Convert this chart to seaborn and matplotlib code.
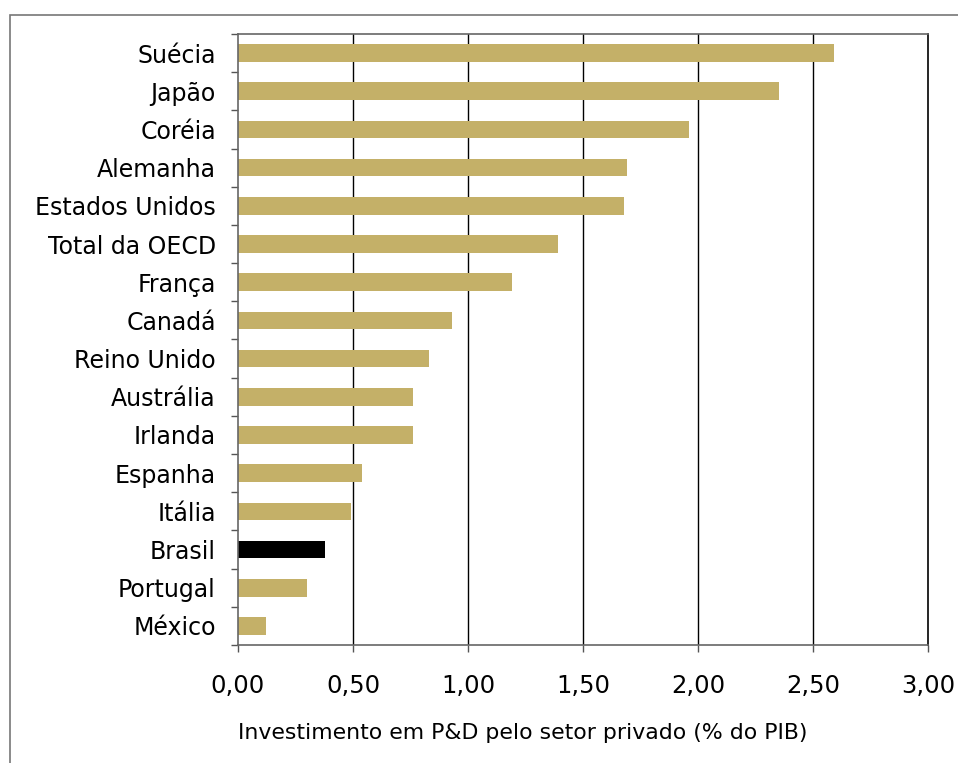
import numpy as np
import pandas as pd
import matplotlib
matplotlib.use("Agg")
import matplotlib.pyplot as plt
import seaborn as sns
from matplotlib.patches import Rectangle

countries = ["Suécia", "Japão", "Coréia", "Alemanha", "Estados Unidos", "Total da OECD",
             "França", "Canadá", "Reino Unido", "Austrália", "Irlanda", "Espanha",
             "Itália", "Brasil", "Portugal", "México"]
values = [2.59, 2.35, 1.96, 1.69, 1.68, 1.39, 1.19, 0.93, 0.83, 0.76, 0.76, 0.54,
          0.49, 0.38, 0.30, 0.12]
xticks = [0.0, 0.5, 1.0, 1.5, 2.0, 2.5, 3.0]
xtick_labels = ["0,00", "0,50", "1,00", "1,50", "2,00", "2,50", "3,00"]
xlabel = "Investimento em P&D pelo setor privado (% do PIB)"

gold = "#C4B068"
palette = {c: ("#000000" if c == "Brasil" else gold) for c in countries}

sns.set_style("white")
plt.rcParams['font.family'] = ['DejaVu Sans']
plt.rcParams['text.color'] = 'black'
plt.rcParams['xtick.color'] = 'black'
plt.rcParams['ytick.color'] = 'black'
plt.rcParams['axes.labelcolor'] = 'black'

df = pd.DataFrame({"pais": countries, "valor": values})

fig = plt.figure(figsize=(9.58, 7.63), dpi=100)
ax = fig.add_axes([238/958, 1-645/763, (928-238)/958, (645-34)/763])

sns.barplot(data=df, x="valor", y="pais", hue="pais", palette=palette, order=countries,
            width=0.46, legend=False, ax=ax, saturation=1, linewidth=0)

ax.set_xlim(0, 3.0)
ax.set_ylim(len(countries)-0.5, -0.5)
ax.set_xticks(xticks)
ax.set_xticklabels(xtick_labels, fontsize=17.5)
ax.set_yticks(range(len(countries)))
ax.set_yticklabels(countries, fontsize=17)
ax.set_yticks(np.arange(-0.5, len(countries)+0.5, 1), minor=True)
ax.tick_params(axis='y', which='major', length=0, pad=16)
ax.tick_params(axis='y', which='minor', length=5, width=1, color='#555555', left=True)
ax.tick_params(axis='x', which='major', length=5, width=1, color='#555555', bottom=True, pad=16)

for x in xticks[1:-1]:
    ax.axvline(x, color='#000000', lw=1, zorder=0)

for s in ['left', 'bottom', 'top']:
    ax.spines[s].set_color('#666666')
    ax.spines[s].set_linewidth(1.2)
ax.spines['right'].set_color('#000000')
ax.spines['right'].set_linewidth(1.2)

ax.set_ylabel("")
ax.set_xlabel(xlabel, fontsize=15.8, ha='left')
ax.xaxis.set_label_coords(0, -0.127)

frame = Rectangle((10/958, -0.05), 1.2, 1-15/763+0.05, transform=fig.transFigure,
                  fill=False, edgecolor='#777777', lw=1.2, zorder=-10)
fig.patches.append(frame)

fig.savefig("out.png", dpi=100)
